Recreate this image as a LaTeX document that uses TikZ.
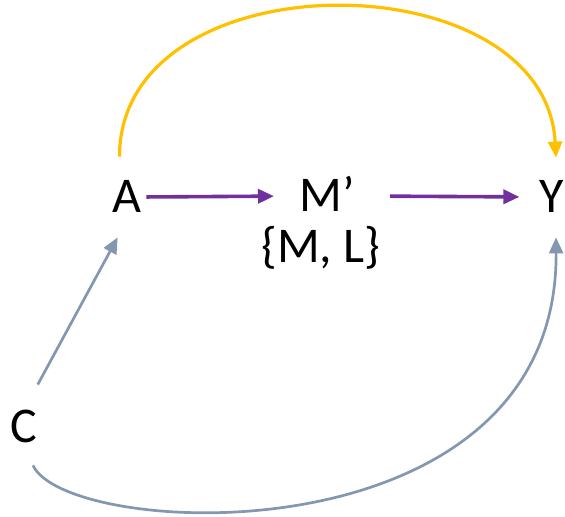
\documentclass[tikz,border=0pt]{standalone}
\usepackage{fontspec}
\setmainfont{Carlito}
\usetikzlibrary{arrows.meta}

\definecolor{medpurple}{HTML}{7030A0}
\definecolor{medgold}{HTML}{FFC000}
\definecolor{confblue}{HTML}{8497B0}

\begin{document}
\begin{tikzpicture}[
  x=0.5pt, y=-0.5pt,
  var/.style={inner sep=0pt, anchor=base, text height=16pt, text depth=0pt,
              font=\fontsize{25pt}{30pt}\selectfont},
  arr/.style={-{Triangle[length=8pt, width=7pt]}},
  medarr/.style={arr, medpurple, line width=1.8pt},
  directarr/.style={arr, medgold, line width=1.6pt},
  confarr/.style={arr, confblue, line width=1.35pt}
]
\useasboundingbox (0,0) rectangle (565,517);
\node[var] (A) at (126.5,213) {A};
\node[var] (Mp) at (327,212) {M’};
\node[var] (Y) at (552,213) {Y};
\node[var] (C) at (24,442) {C};
\node[inner sep=0pt, anchor=base, font=\fontsize{25pt}{30pt}\selectfont] (ML) at (321,263) {\{M, L\}};
\draw[medarr, shorten <=2.5pt, shorten >=12.5pt] (A.east) -- (Mp.west);
\draw[medarr, shorten <=17.5pt, shorten >=10pt] (Mp.east) -- (Y.west);
\draw[directarr] ([shift={(-7,-24)}]A.north) .. controls +(0,-200) and +(-11,-200) .. ([shift={(4,-23)}]Y.north);
\draw[confarr] ([shift={(0,-25)}]C.north east) -- ([shift={(6,24)}]A.south west);
\draw[confarr] ([shift={(9,23)}]C.south) .. controls +(35,75) and +(2,325) .. ([shift={(4,24)}]Y.south);
\end{tikzpicture}
\end{document}
